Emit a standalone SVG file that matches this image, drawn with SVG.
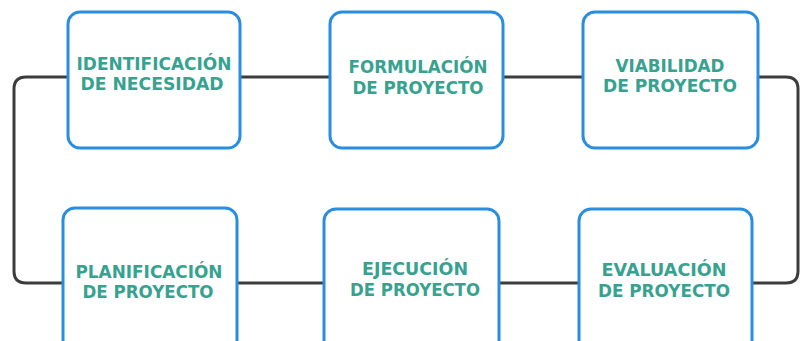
<svg xmlns="http://www.w3.org/2000/svg" width="800" height="341" viewBox="0 0 800 341">
<style>
.box{fill:#ffffff;stroke:#2a8ee0;stroke-width:3}
.lbl{font-family:"DejaVu Sans","Open Sans",sans-serif;font-weight:700;font-size:17px;fill:#36a28f;text-anchor:middle}
.conn{fill:none;stroke:#3c3c3c;stroke-width:3}
</style>
<rect width="800" height="341" fill="#ffffff"/>
<g id="connectors">
<path class="conn" d="M14 89 Q14 77 26 77 H786 Q798 77 798 89 V271 Q798 283 786 283 H26 Q14 283 14 271 Z"/>
</g>
<g id="n1"><rect class="box" x="68" y="12" width="172" height="136" rx="12"/>
<text class="lbl" x="154" y="70" textLength="155" lengthAdjust="spacingAndGlyphs">IDENTIFICACIÓN</text><text class="lbl" x="152" y="90" textLength="143" lengthAdjust="spacingAndGlyphs">DE NECESIDAD</text></g>
<g id="n2"><rect class="box" x="330" y="12" width="173" height="136" rx="12"/>
<text class="lbl" x="418" y="73" textLength="139" lengthAdjust="spacingAndGlyphs">FORMULACIÓN</text><text class="lbl" x="418" y="94" textLength="131" lengthAdjust="spacingAndGlyphs">DE PROYECTO</text></g>
<g id="n3"><rect class="box" x="583" y="12" width="175" height="136" rx="12"/>
<text class="lbl" x="670" y="72" textLength="109" lengthAdjust="spacingAndGlyphs">VIABILIDAD</text><text class="lbl" x="670" y="92" textLength="134" lengthAdjust="spacingAndGlyphs">DE PROYECTO</text></g>
<g id="n4"><rect class="box" x="63" y="208" width="174" height="150" rx="12"/>
<text class="lbl" x="149" y="278" textLength="147" lengthAdjust="spacingAndGlyphs">PLANIFICACIÓN</text><text class="lbl" x="148" y="298" textLength="131" lengthAdjust="spacingAndGlyphs">DE PROYECTO</text></g>
<g id="n5"><rect class="box" x="324" y="209" width="175" height="150" rx="12"/>
<text class="lbl" x="415" y="275" textLength="106" lengthAdjust="spacingAndGlyphs">EJECUCIÓN</text><text class="lbl" x="415" y="296" textLength="130" lengthAdjust="spacingAndGlyphs">DE PROYECTO</text></g>
<g id="n6"><rect class="box" x="579" y="209" width="173" height="150" rx="12"/>
<text class="lbl" x="664" y="276" textLength="125" lengthAdjust="spacingAndGlyphs">EVALUACIÓN</text><text class="lbl" x="664" y="297" textLength="132" lengthAdjust="spacingAndGlyphs">DE PROYECTO</text></g>
</svg>
